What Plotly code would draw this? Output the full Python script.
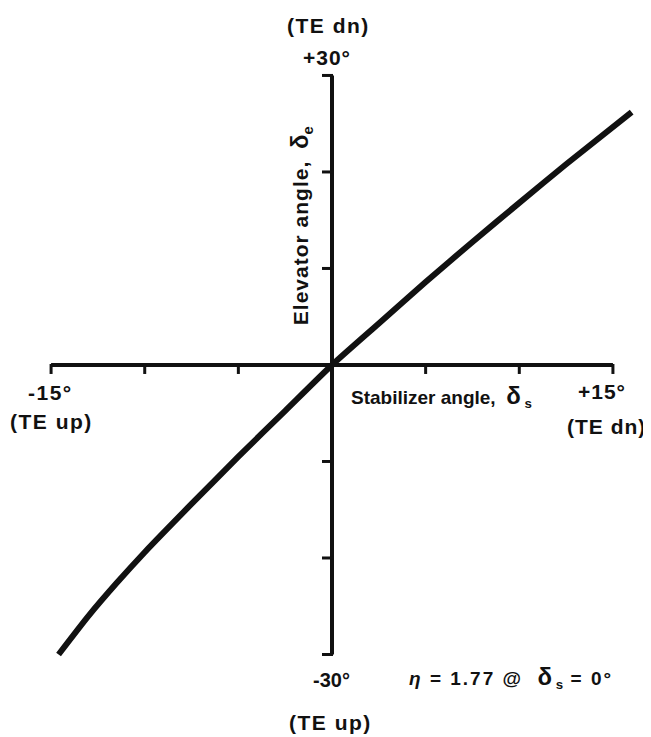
"""
升降舵角 vs 水平安定面角 关系曲线
"""
import plotly.graph_objects as go

# 曲线数据
stab_angle = [-14.6, -13.0, -11.5, -10.0, -7.5, -5.0, -2.5, 0, 2.5, 5.0, 7.5, 10.0, 12.5, 16.0]
elev_angle = [-30.0, -26.0, -22.6, -19.4, -14.4, -9.5, -4.75, 0, 4.3, 8.6, 12.75, 16.8, 20.8, 26.2]

# 轴刻度
x_ticks = [-15, -10, -5, 5, 10, 15]
y_ticks = [-30, -20, -10, 10, 20, 30]
x_lim = [-15, 15]
y_lim = [-30, 30]

INK = "#111111"
FONT = "Liberation Sans, Arial, sans-serif"

fig = go.Figure()
fig.add_trace(go.Scatter(
    x=stab_angle,
    y=elev_angle,
    mode="lines",
    line=dict(color=INK, width=6, shape="spline", smoothing=0.6),
    showlegend=False,
    hoverinfo="skip",
))

shapes = [
    dict(type="line", xref="x", yref="y", x0=x_lim[0], x1=x_lim[1], y0=0, y1=0,
         line=dict(color=INK, width=4)),
    dict(type="line", xref="x", yref="y", x0=0, x1=0, y0=y_lim[0], y1=y_lim[1],
         line=dict(color=INK, width=4)),
]
for t in x_ticks:
    shapes.append(dict(type="line", xref="x", yref="y", x0=t, x1=t,
                       ysizemode="pixel", yanchor=0, y0=1, y1=-9,
                       line=dict(color=INK, width=3)))
for t in y_ticks:
    shapes.append(dict(type="line", xref="x", yref="y", y0=t, y1=t,
                       xsizemode="pixel", xanchor=0, x0=1, x1=-10,
                       line=dict(color=INK, width=3)))


def spaced(text, px):
    # 原图字距较宽,用 letter-spacing 模拟
    return f'<span style="letter-spacing:{px}px">{text}</span>'


def label(text, x, y, xanchor="center", angle=0, size=21):
    return dict(text=text, x=x, y=y, xref="x", yref="y", showarrow=False,
                xanchor=xanchor, yanchor="middle", textangle=angle,
                font=dict(family=FONT, size=size, color=INK, weight="bold"))


DELTA = '<span style="font-size:24px">δ</span>'

annotations = [
    label(spaced("(TE dn)", 1.5), -0.2, 35.2),
    label(spaced("+30°", 1), -0.27, 31.9),
    label(spaced("-15°", 1.5), -15.05, -2.9),
    label(spaced("(TE up)", 1.5), -15.0, -5.9),
    label(f"Stabilizer angle,  {DELTA}<sub> s</sub>", 0.9, -3.3, xanchor="left", size=19),
    label(spaced("+15°", 1), 14.42, -2.8),
    label(spaced("(TE dn)", 1), 14.68, -6.4),
    label(spaced("Elevator angle,", 1) + f"  {DELTA}<sub>e</sub>", -1.7, 14.4, angle=-90),
    label("-30°", -0.05, -32.6, size=20),
    label(spaced("(TE up)", 1.5), -0.1, -37.0),
    label(spaced("<i>η</i> = 1.77 @  ", 2) + DELTA + "<sub> s</sub>" + spaced(" = 0°", 2),
          4.0, -32.4, xanchor="left", size=19),
]

# 页面 body 自带 8px 外边距,范围按此平移,使坐标落在原图位置
fig.update_layout(
    width=651,
    height=737,
    margin=dict(l=0, r=0, t=0, b=0),
    plot_bgcolor="white",
    paper_bgcolor="white",
    shapes=shapes,
    annotations=annotations,
)
fig.update_xaxes(range=[-17.30, 17.46], visible=False, fixedrange=True)
fig.update_yaxes(range=[-39.38, 36.99], visible=False, fixedrange=True)

fig.write_html("out.html")
